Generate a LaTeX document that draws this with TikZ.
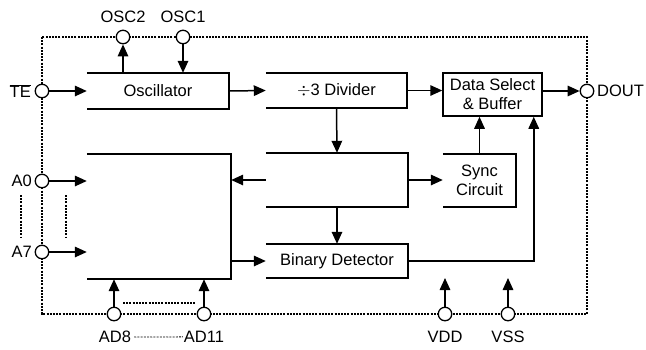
\documentclass[tikz,border=0pt]{standalone}
\usepackage{fontspec}
\setmainfont{Liberation Sans}
\usetikzlibrary{arrows.meta,calc}
\newcommand\drawopen[1]{\draw[openbox] (#1.north west) -- (#1.north east) -- (#1.south east) -- (#1.south west);}
\tikzset{
  blk/.style={rectangle, inner sep=0pt, align=center, font=\fontsize{16.5}{19}\selectfont},
  openbox/.style={line width=1.5pt},
  pin/.style={circle, draw, fill=white, line width=1.3pt, minimum size=13.5pt, inner sep=0pt},
  arr/.style={line width=1.5pt, -{Triangle[length=12pt,width=10.5pt]}},
  bord/.style={line width=1.2pt, dash pattern=on 2pt off 1.2pt},
  lbl/.style={font=\fontsize{16.5}{19}\selectfont, inner sep=0pt}
}
\begin{document}
\begin{tikzpicture}[x=1pt,y=-1pt]
\useasboundingbox (0,0) rectangle (646,349);
% dotted package border
\coordinate (bnw) at (42,37);
\coordinate (bse) at (587,314);
\draw[bord] (bnw) rectangle (bse);
% blocks
\node[blk, minimum width=142pt, minimum height=36pt] (osc) at (158,91) {Oscillator};
\node[blk, minimum width=141pt, minimum height=35pt] (div) at (336.5,90.5) {\(\div\)3 Divider};
\node[blk, minimum width=99pt, minimum height=43pt, draw, line width=1.5pt] (ds) at (492.5,94.5) {Data Select\\\& Buffer};
\node[blk, minimum width=142pt, minimum height=54pt] (mid) at (337,180) {};
\node[blk, minimum width=142pt, minimum height=34pt] (bin) at (337,261) {Binary Detector};
\node[blk, minimum width=144pt, minimum height=125pt] (big) at (159,216.5) {};
\node[blk, minimum width=73pt, minimum height=53pt] (sync) at (479.5,180.5) {Sync\\Circuit};
\drawopen{osc}
\drawopen{div}
\drawopen{mid}
\drawopen{bin}
\drawopen{big}
\drawopen{sync}
% pins
\node[pin] (osc2) at (123,37) {};
\node[pin] (osc1) at (183,37) {};
\node[pin] (te) at (42,91) {};
\node[pin] (a0) at (42,181) {};
\node[pin] (a7) at (42,252) {};
\node[pin] (dout) at (587,91) {};
\node[pin] (ad8) at (114,314) {};
\node[pin] (ad11) at (204,314) {};
\node[pin] (vdd) at (445,314) {};
\node[pin] (vss) at (508,314) {};
% pin labels
\node[lbl, anchor=south] (osc2l) at (123,23) {OSC2};
\node[lbl, anchor=south] (osc1l) at (183,23) {OSC1};
\node[lbl, anchor=east] (tel) at (31,91) {\(\overline{\hbox{TE}}\)};
\node[lbl, anchor=east] (a0l) at (32,181) {A0};
\node[lbl, anchor=east] (a7l) at (32,252) {A7};
\node[lbl, anchor=west] (doutl) at (597,91) {DOUT};
\node[lbl, anchor=north] (ad8l) at (115,331) {AD8};
\node[lbl, anchor=north] (ad11l) at (204,331) {AD11};
\node[lbl, anchor=north] (vddl) at (445,331) {VDD};
\node[lbl, anchor=north] (vssl) at (508,331) {VSS};
% dotted ellipsis marks
\draw[bord] (21,195) -- (21,237);
\draw[bord] (66,195) -- (66,237);
\draw[bord] (123,303) -- (195,303);
\draw[bord, line width=0.8pt] ([xshift=3pt]ad8l.east) -- ([xshift=-1pt]ad11l.west);
% connectors
\draw[arr] (te.east) -- (te.east -| osc.west);
\draw[arr] (osc.east) -- (div.west);
\draw[arr] (div.east) -- (div.east -| ds.west);
\draw[arr] (dout.west -| ds.east) -- (dout.west);
\draw[arr] (div.south) -- (mid.north);
\draw[arr] (mid.south) -- (bin.north);
\draw[arr] (mid.west) -- (mid.west -| big.east);
\draw[arr] (mid.east) -- (mid.east -| sync.west);
\draw[arr] (sync.north) -- (sync.north |- ds.south);
\coordinate (dsin) at ([xshift=-9pt]ds.south east);
\draw[arr] (bin.east) -| (dsin);
\draw[arr] (bin.west -| big.east) -- (bin.west);
\draw[arr] (osc2 |- osc.north) -- (osc2.south);
\draw[arr] (osc1.south) -- (osc1 |- osc.north);
\draw[arr] (a0.east) -- (a0.east -| big.west);
\draw[arr] (a7.east) -- (a7.east -| big.west);
\draw[arr] (ad8.north) -- (ad8.north |- big.south);
\draw[arr] (ad11.north) -- (ad11.north |- big.south);
\coordinate (vddin) at (445,278);
\coordinate (vssin) at (508,278);
\draw[arr] (vdd.north) -- (vddin);
\draw[arr] (vss.north) -- (vssin);
\end{tikzpicture}
\end{document}
